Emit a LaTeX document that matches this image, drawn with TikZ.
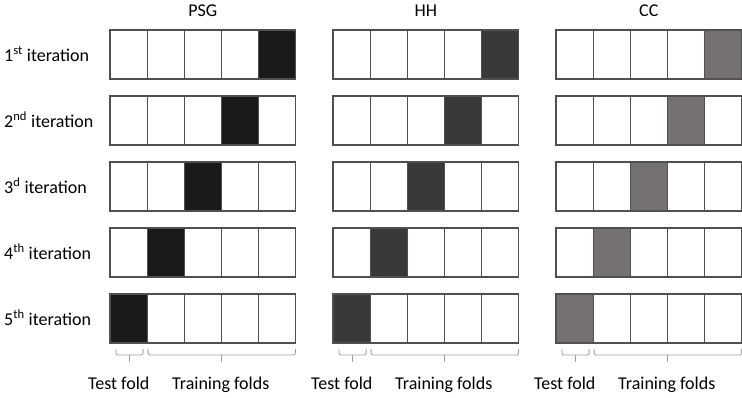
\documentclass[tikz,border=0pt]{standalone}
\usepackage{fontspec}
\setmainfont{Carlito}
\usepackage{tikz}
\usepackage{xcolor}
\definecolor{psgfill}{RGB}{26,26,26}
\definecolor{hhfill}{RGB}{59,56,56}
\definecolor{ccfill}{RGB}{118,113,113}
\definecolor{foldline}{RGB}{80,80,80}
\definecolor{bracket}{RGB}{160,160,160}

\begin{document}
\begin{tikzpicture}[x=1pt,y=-1pt,
    fold/.style={draw=foldline,line width=1.1pt,minimum width=37.1pt,minimum height=49pt,
      inner sep=0pt,outer sep=0pt,anchor=north west},
    lbl/.style={font=\fontsize{18}{21}\selectfont,inner sep=0pt},
    brace/.style={draw=bracket,line width=0.8pt,rounded corners=2pt}]
    \useasboundingbox (0,0) rectangle (742,397);
    % row labels
    \foreach \r/\suf in {1/st,2/nd,3/d,4/th,5/th}
      \node[lbl,anchor=base west] (iter-\r) at (4,{30+(\r-1)*66+31}) {\r\textsuperscript{\suf} iteration};
    % one block of folds per data set
    \foreach \g/\x/\col/\name in {psg/110/psgfill/PSG, hh/333/hhfill/HH, cc/556/ccfill/CC}{
      \node[lbl,anchor=base] (\g-head) at (\x+92.75,16) {\name};
      \foreach \r in {1,...,5}{
        \pgfmathtruncatemacro\testcol{6-\r}
        \foreach \c in {1,...,5}{
          \ifnum\c=\testcol\def\cf{\col}\else\def\cf{white}\fi
          \node[fold,fill=\cf] (\g-\r-\c) at ({\x+(\c-1)*37.1},{30+(\r-1)*66}) {};
        }
      }
      \draw[brace] ([shift={(6,6)}]\g-5-1.south west) -- ++(0,6) -| ([shift={(-4,6)}]\g-5-1.south east);
      \draw[brace] ([shift={(1,12)}]\g-5-1.south) -- ++(0,7);
      \draw[brace] ([shift={(1,6)}]\g-5-2.south west) -- ++(0,6) -| ([shift={(0,6)}]\g-5-5.south east);
      \draw[brace] ([shift={(0,12)}]\g-5-3.south east) -- ++(0,7);
      \node[lbl,anchor=base west] (\g-test) at (\x-22,389) {Test fold};
      \node[lbl,anchor=base west] (\g-train) at (\x+62,389) {Training folds};
    }
\end{tikzpicture}
\end{document}
